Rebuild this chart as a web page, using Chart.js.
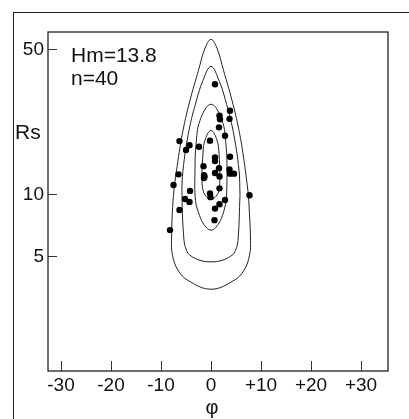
<!DOCTYPE html>
<html>
<head>
<meta charset="utf-8">
<script src="https://cdn.jsdelivr.net/npm/chart.js@4.4.0/dist/chart.umd.min.js"></script>
<style>
  body { margin: 0; background: #fff; }
  #wrap { position: relative; width: 409px; height: 419px; overflow: hidden; font-family: "Liberation Sans", Arial, sans-serif; color: #111; }
  #frame { position: absolute; left: 13px; top: 12px; width: 600px; height: 600px; border-top: 1px solid #222; border-left: 1px solid #222; }
  #chart { position: absolute; left: 0; top: 0; }
  .lbl { position: absolute; white-space: nowrap; line-height: 1; }
</style>
</head>
<body>
<div id="wrap">
  <div id="frame"></div>
  <canvas id="chart" width="409" height="419"></canvas>
  <div class="lbl" style="left:15px; top:121px; font-size:21px;">Rs</div>
  <div class="lbl" style="left:71px; top:44px; font-size:21px;">Hm=13.8</div>
  <div class="lbl" style="left:71px; top:67px; font-size:21px;">n=40</div>
  <div class="lbl" style="left:192px; width:40px; text-align:center; top:397px; font-size:20px;">φ</div>
</div>
<script>
// Axis ticks
const xTicks = [-30, -20, -10, 0, 10, 20, 30];
const xTickLabels = ["-30", "-20", "-10", "0", "+10", "+20", "+30"];
const yTicks = [5, 10, 50];
const yTickLabels = ["5", "10", "50"];

// Observations (phi, Rs)
const dotPhi = [0.8, 3.8, 1.7, 1.8, 3.7, 1.6, 2.8, -0.2, -6.3, -4.3, -5.0, -2.4, 0.8, 3.8, 0.8, -1.5, 1.6, 3.7, 0.8, -1.4,
  -1.4, 1.7, 3.8, 4.6, -6.5, -7.5, 1.7, -4.2, -0.2, -0.1, -5.2, -4.3, 2.8, 1.7, 0.8, -6.3, 0.7, -8.2, 7.7, -1.3];
const dotRs = [34.1, 25.4, 24.0, 23.1, 23.2, 21.1, 19.2, 18.2, 18.1, 17.3, 16.4, 17.0, 15.1, 15.2, 14.5, 13.7, 13.4, 13.2, 12.7, 12.4,
  12.0, 12.2, 12.6, 12.6, 12.5, 11.1, 10.7, 10.4, 10.1, 9.7, 9.5, 9.2, 9.4, 8.96, 8.54, 8.4, 7.51, 6.72, 9.9, 12.2];

// Contour lines (closed loops)
const c1Phi = [7.5, 6.6, 5.6, 4.2, 2.5, 1.2, 0, -1.2, -2.5, -4.2, -5.6, -6.6, -7.5, -7.9, -7.7, -6.6, -4.6, 0, 4.6, 6.6, 7.7, 7.9, 7.5];
const c1Rs = [9.9, 14.6, 20.4, 28.5, 39.8, 50.9, 56.2, 50.9, 39.8, 28.5, 20.4, 14.6, 9.9, 6.0, 5.08, 4.3, 3.84, 3.48, 3.84, 4.3, 5.08, 6.0, 9.9];

const c2Phi = [5.8, 5.6, 4.4, 2.9, 1.6, 0, -1.6, -2.9, -4.4, -5.6, -5.8, -5.4, -4.9, -4.2, -2.2, 0, 2.2, 4.2, 4.9, 5.4, 5.8];
const c2Rs = [9.9, 13.1, 20.4, 28.5, 35.6, 41.6, 35.6, 28.5, 20.4, 13.1, 9.9, 6.0, 5.37, 5.08, 4.8, 4.72, 4.8, 5.08, 5.37, 6.0, 9.9];

const c3Phi = [3.1, 3.2, 3.0, 2.2, 0, -2.2, -3.0, -3.2, -3.1, -2.3, -1.3, 0, 1.3, 2.3, 3.1];
const c3Rs = [9.37, 13.1, 17.3, 22.8, 27.3, 22.8, 17.3, 13.1, 9.37, 7.92, 7.09, 6.71, 7.09, 7.92, 9.37];

const c4Phi = [1.8, 1.6, 1.2, 0, -1.2, -1.6, -1.8, -1.6, -1.0, 0, 1.0, 1.6, 1.8];
const c4Rs = [12.1, 15.8, 18.3, 20.4, 18.3, 15.8, 12.1, 10.5, 9.79, 9.45, 9.79, 10.5, 12.1];

const toPoints = (xs, ys) => xs.map((x, i) => ({ x: x, y: ys[i] }));

const contour = (xs, ys) => ({
  data: toPoints(xs, ys),
  showLine: true,
  tension: 0.4,
  borderColor: "#222",
  borderWidth: 1,
  pointRadius: 0,
  fill: false,
});

const tickFont = { family: "'Liberation Sans', Arial, sans-serif", size: 19 };

// plot box on all four sides
const boxPlugin = {
  id: "box",
  afterDraw(chart) {
    const { ctx, chartArea: a } = chart;
    ctx.save();
    ctx.strokeStyle = "#222";
    ctx.lineWidth = 1.3;
    ctx.strokeRect(a.left, a.top, a.right - a.left, a.bottom - a.top);
    ctx.restore();
  },
};

new Chart(document.getElementById("chart"), {
  type: "scatter",
  data: {
    datasets: [
      {
        data: toPoints(dotPhi, dotRs),
        pointRadius: 3.2,
        pointBackgroundColor: "#000",
        pointBorderWidth: 0,
        showLine: false,
      },
      contour(c1Phi, c1Rs),
      contour(c2Phi, c2Rs),
      contour(c3Phi, c3Rs),
      contour(c4Phi, c4Rs),
    ],
  },
  options: {
    responsive: false,
    animation: false,
    layout: { padding: { top: 32, right: 21, left: 0, bottom: 0 } },
    plugins: { legend: { display: false }, tooltip: { enabled: false } },
    scales: {
      x: {
        type: "linear",
        min: -32.6,
        max: 35.4,
        afterBuildTicks: (s) => { s.ticks = xTicks.map((v) => ({ value: v })); },
        afterFit: (s) => { s.height = 48; },
        ticks: {
          callback: (v, i) => xTickLabels[i],
          font: tickFont,
          color: "#111",
          padding: 13,
          maxRotation: 0,
          autoSkip: false,
        },
        grid: { drawOnChartArea: false, tickLength: -10, color: "#333", lineWidth: 1 },
        border: { display: false },
      },
      y: {
        type: "logarithmic",
        min: 1.4,
        max: 61,
        afterBuildTicks: (s) => { s.ticks = yTicks.map((v) => ({ value: v })); },
        afterFit: (s) => { s.width = 48; },
        ticks: {
          callback: (v, i) => yTickLabels[i],
          font: tickFont,
          color: "#111",
          padding: 13,
          autoSkip: false,
        },
        grid: { drawOnChartArea: false, tickLength: -9, color: "#333", lineWidth: 1 },
        border: { display: false },
      },
    },
  },
  plugins: [boxPlugin],
});
</script>
</body>
</html>
